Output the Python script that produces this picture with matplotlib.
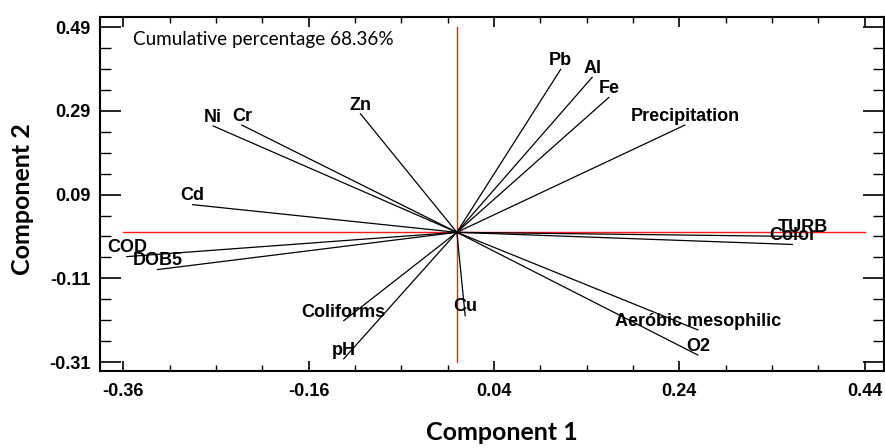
import matplotlib
matplotlib.use("Agg")
from matplotlib import pyplot as plt
from matplotlib.ticker import MultipleLocator, FixedLocator

# loadings (component 1, component 2)
variables = ["Pb", "Al", "Fe", "Precipitation", "Zn", "Ni", "Cr", "Cd",
             "COD", "DOB5", "Coliforms", "pH", "Cu", "Aeróbic mesophilic",
             "O2", "Color", "TURB"]
comp1 = [0.112, 0.146, 0.164, 0.246, -0.104, -0.263, -0.232, -0.285,
         -0.356, -0.323, -0.122, -0.122, 0.009, 0.260, 0.260, 0.362, 0.373]
comp2 = [0.389, 0.370, 0.322, 0.256, 0.283, 0.254, 0.256, 0.066,
         -0.058, -0.089, -0.211, -0.302, -0.199, -0.233, -0.293, -0.029, -0.010]

xticks = [-0.36, -0.16, 0.04, 0.24, 0.44]
yticks = [-0.31, -0.11, 0.09, 0.29, 0.49]
cumulative = 68.36

plt.rcParams["axes.unicode_minus"] = False

fig = plt.figure(figsize=(8.85, 4.48), dpi=100)
ax = fig.add_axes([0.113, 0.172, 0.886, 0.790])

# reference cross
ax.plot([xticks[0], xticks[-1]], [0, 0], color="#ff1a1a", lw=1, zorder=1)
ax.plot([0, 0], [yticks[0], yticks[-1]], color="#ff1a1a", lw=1, zorder=1)

for name, x, y in zip(variables, comp1, comp2):
    ax.plot([0, x], [0, y], color="black", lw=0.9, zorder=2)
    ax.annotate(name, (x, y), xytext=(0, 3), textcoords="offset points",
                ha="center", va="baseline", fontsize=13, fontweight="bold",
                family="Liberation Sans", zorder=3)

ax.set_xlim(-0.385, 0.461)
ax.set_ylim(-0.331, 0.514)

ax.xaxis.set_major_locator(FixedLocator(xticks))
ax.yaxis.set_major_locator(FixedLocator(yticks))
ax.xaxis.set_minor_locator(MultipleLocator(0.05, offset=0.04))
ax.yaxis.set_minor_locator(MultipleLocator(0.05, offset=0.09))
ax.set_xticklabels([f"{t:.2f}" for t in xticks])
ax.set_yticklabels([f"{t:.2f}" for t in yticks])

ax.tick_params(axis="x", which="major", direction="in", length=7, width=1.2,
               top=True, pad=9)
ax.tick_params(axis="x", which="minor", direction="in", length=4, width=1,
               top=True)
ax.tick_params(axis="y", which="major", direction="in", length=15, width=1.2,
               right=True, pad=7)
ax.tick_params(axis="y", which="minor", direction="in", length=8, width=1,
               right=True)
for lab in ax.get_xticklabels() + ax.get_yticklabels():
    lab.set_family("Liberation Sans")
    lab.set_fontweight("bold")
    lab.set_fontsize(13)

for sp in ax.spines.values():
    sp.set_linewidth(1.5)

ax.text(0.042, 0.921, f"Cumulative percentage {cumulative:.2f}%",
        transform=ax.transAxes, ha="left", va="baseline", fontsize=13.6,
        family="Lato")

fig.text(502 / 885, 1 - 432 / 448, "Component 1", ha="center", va="center",
         fontsize=18, fontweight="bold", family="Lato")
fig.text(23 / 885, 1 - 199 / 448, "Component 2", ha="center", va="center",
         rotation=90, fontsize=18, fontweight="bold", family="Lato")

fig.savefig("out.png", dpi=100)
